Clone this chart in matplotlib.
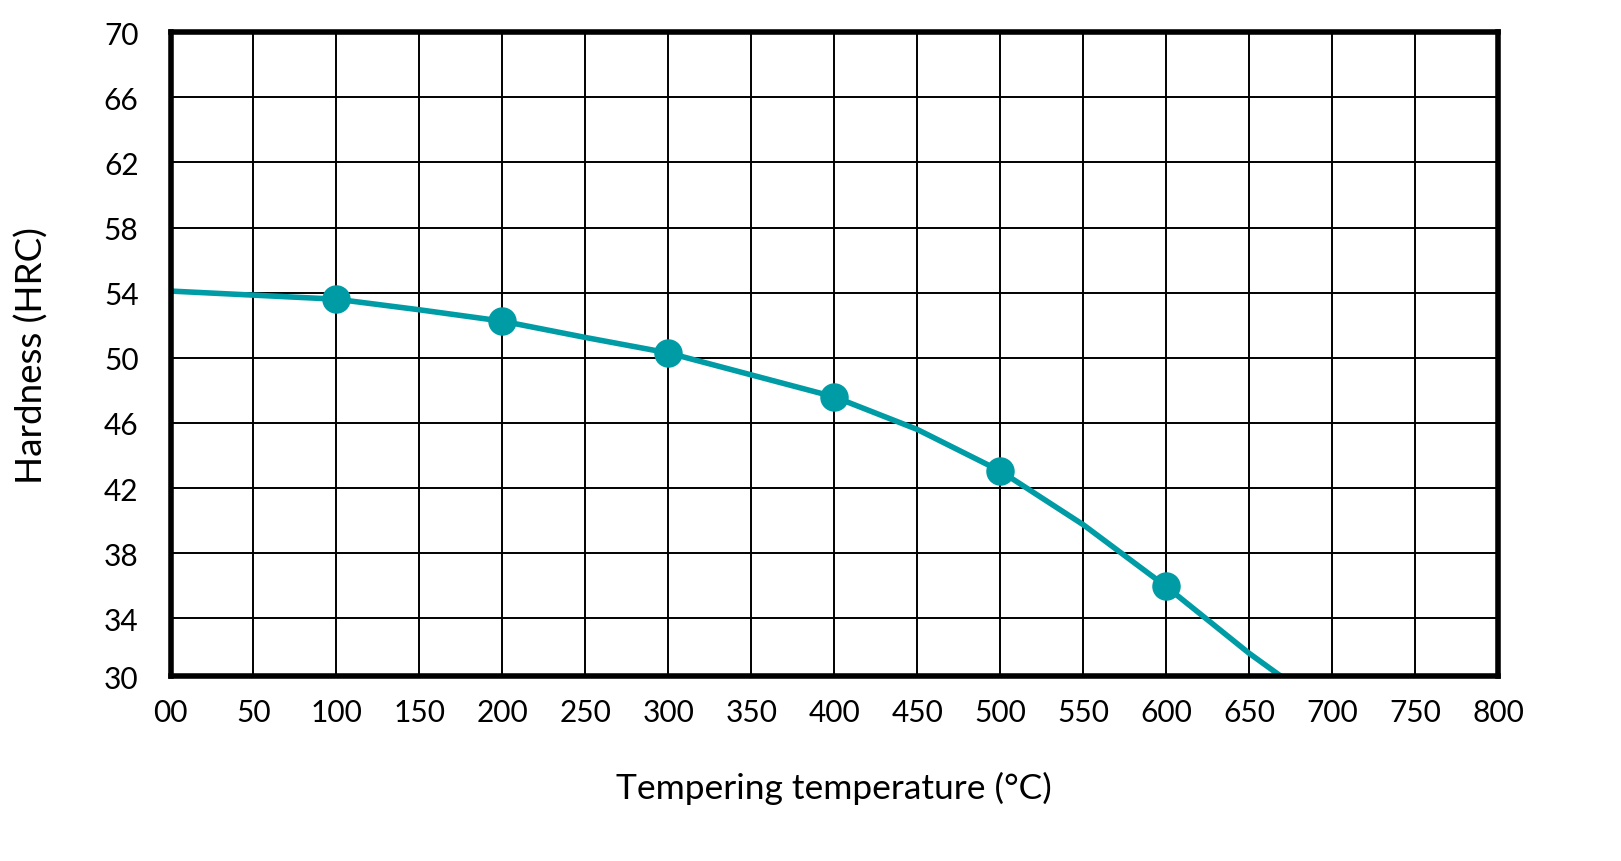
import matplotlib.pyplot as plt

# measured points (tempering temperature, hardness)
temps = [100, 200, 300, 400, 500, 600]
hardness = [53.6, 52.25, 50.3, 47.6, 43.05, 35.95]

# trend curve
curve_t = [0, 50, 100, 150, 200, 250, 300, 350, 400, 450, 500, 550, 600, 650, 669]
curve_h = [54.1, 53.85, 53.6, 52.95, 52.25, 51.25, 50.3, 48.95, 47.6, 45.6, 43.05, 39.75, 35.95, 31.85, 30.45]

xticks = list(range(0, 801, 50))
xlabels = ['00'] + [str(v) for v in xticks[1:]]
# the bottom cell of the original is a bit short: the frame sits just above 30
y_bottom = 30.45
yticks = [y_bottom] + list(range(34, 71, 4))
ylabels = ['30'] + [str(v) for v in range(34, 71, 4)]

teal = '#009ca6'
plt.rcParams['font.family'] = ['Lato', 'DejaVu Sans']

fig = plt.figure(figsize=(16.21, 8.62), dpi=100)
ax = fig.add_axes([0.1052, 0.2146, 0.8189, 0.7468])

ax.plot(curve_t, curve_h, color=teal, lw=4, solid_capstyle='butt',
        solid_joinstyle='round', zorder=3)
ax.plot(temps, hardness, 'o', color=teal, markersize=19.5, zorder=4)

ax.set_xlim(0, 800)
ax.set_ylim(y_bottom, 70)
ax.set_xticks(xticks)
ax.set_xticklabels(xlabels)
ax.set_yticks(yticks)
ax.set_yticklabels(ylabels)
ax.grid(True, color='black', lw=1.4, zorder=1)
ax.set_axisbelow(True)
ax.tick_params(length=0, labelsize=21.5, pad=16)
ax.tick_params(axis='y', pad=23)
for s in ax.spines.values():
    s.set_linewidth(4)
    s.set_zorder(5)

ax.set_xlabel('Tempering temperature (°C)', fontsize=25.5)
ax.set_ylabel('Hardness (HRC)', fontsize=26.5)
ax.xaxis.set_label_coords(0.5, -0.147)
ax.yaxis.set_label_coords(-0.092, 0.5)

fig.savefig('out.png', dpi=100)
